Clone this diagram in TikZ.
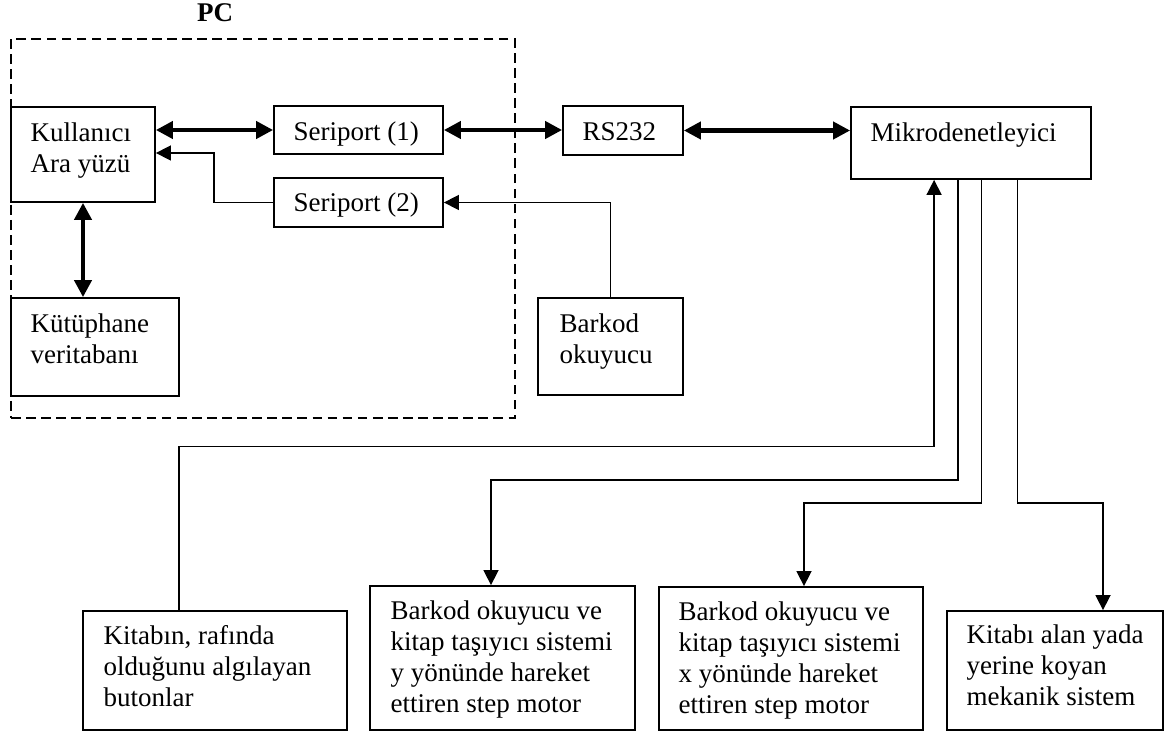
\documentclass[tikz,border=0pt]{standalone}
\usepackage{fontspec}
\setmainfont{Liberation Serif}
\usetikzlibrary{arrows.meta,calc,fit}
\begin{document}
\begin{tikzpicture}[x=0.4444pt,y=-0.4444pt,
  box/.style={draw,line width=0.8pt,inner sep=0pt},
  pcframe/.style={draw,line width=0.75pt,dash pattern=on 4.3pt off 2.4pt,inner sep=0pt},
  txt/.style={inner sep=0pt,anchor=base west,font=\fontsize{12pt}{13.8pt}\selectfont},
  dbl/.style={line width=1.8pt,{Triangle[length=7.5pt,width=7.5pt]}-{Triangle[length=7.5pt,width=7.5pt]}},
  conn/.style={line width=0.7pt,-{Triangle[length=6.7pt,width=6.7pt]}}]
\useasboundingbox (0,0) rectangle (1175,735);

% PC frame
\node[pcframe,fit={(11,39) (515,418)}] (pcbox) {};
\node[font=\bfseries\fontsize{12pt}{13.8pt}\selectfont,inner sep=0pt,anchor=base] (pc) at (215,22) {PC};

% boxes
\node[box,fit={(11,107) (155,202)}] (kul) {};
\node[box,fit={(274,106) (443,154)}] (s1) {};
\node[box,fit={(274,178) (443,227)}] (s2) {};
\node[box,fit={(563,106) (683,155)}] (rs) {};
\node[box,fit={(851,107) (1091,179)}] (mk) {};
\node[box,fit={(11,298) (179,396)}] (kt) {};
\node[box,fit={(538,298) (683,395)}] (bk) {};
\node[box,fit={(83,611) (347,730)}] (kb) {};
\node[box,fit={(370,586) (635,730)}] (by) {};
\node[box,fit={(659,587) (923,730)}] (bx) {};
\node[box,fit={(947,611) (1163,730)}] (ka) {};

% texts
\node[txt] (kult) at ($(kul.north west)+(20,35)$) {\parbox[t]{6cm}{\raggedright Kullanıcı\\Ara yüzü}};
\node[txt] (s1t) at ($(s1.north west)+(20,35)$) {Seriport (1)};
\node[txt] (s2t) at ($(s2.north west)+(20,34)$) {Seriport (2)};
\node[txt] (rst) at ($(rs.north west)+(20,35)$) {RS232};
\node[txt] (mkt) at ($(mk.north west)+(20,35)$) {Mikrodenetleyici};
\node[txt] (ktt) at ($(kt.north west)+(20,35)$) {\parbox[t]{6cm}{\raggedright Kütüphane\\veritabanı}};
\node[txt] (bkt) at ($(bk.north west)+(22,35)$) {\parbox[t]{6cm}{\raggedright Barkod\\okuyucu}};
\node[txt] (kbt) at ($(kb.north west)+(21,34)$) {\parbox[t]{6cm}{\raggedright Kitabın, rafında\\olduğunu algılayan\\butonlar}};
\node[txt] (byt) at ($(by.north west)+(21,34)$) {\parbox[t]{6cm}{\raggedright Barkod okuyucu ve\\kitap taşıyıcı sistemi\\y yönünde hareket\\ettiren step motor}};
\node[txt] (bxt) at ($(bx.north west)+(20,34)$) {\parbox[t]{6cm}{\raggedright Barkod okuyucu ve\\kitap taşıyıcı sistemi\\x yönünde hareket\\ettiren step motor}};
\node[txt] (kat) at ($(ka.north west)+(20,33)$) {\parbox[t]{6cm}{\raggedright Kitabı alan yada\\yerine koyan\\mekanik sistem}};

% helper coordinates
\coordinate (c1) at (214,153);
\coordinate (k1) at (179,446.5);
\coordinate (m1) at ($(mk.south west)+(84,0)$);
\coordinate (m2) at ($(mk.south west)+(108,0)$);
\coordinate (m3) at ($(mk.south west)+(131.5,0)$);
\coordinate (m4) at ($(mk.south west)+(167.5,0)$);
\coordinate (y1) at (491,480);
\coordinate (x1) at (804,503);
\coordinate (a1) at (1103,503);

% thick bidirectional connectors
\draw[dbl] (kul.east |- s1.west) -- (s1.west);
\draw[dbl] (s1.east) -- (s1.east -| rs.west);
\draw[dbl] (rs.east) -- (rs.east -| mk.west);
\draw[dbl] (kul.south) -- (kul.south |- kt.north);

% thin connectors
\draw[conn] (s2.west) -| (c1) -- (c1 -| kul.east);
\draw[conn] (bk.north) |- (s2.east);
\draw[conn] (kb.north -| k1) -- (k1) -| (m1);
\draw[conn] (m2) |- (y1) -- (y1 |- by.north);
\draw[conn] (m3) |- (x1) -- (x1 |- bx.north);
\draw[conn] (m4) |- (a1) -- (a1 |- ka.north);
\end{tikzpicture}
\end{document}
